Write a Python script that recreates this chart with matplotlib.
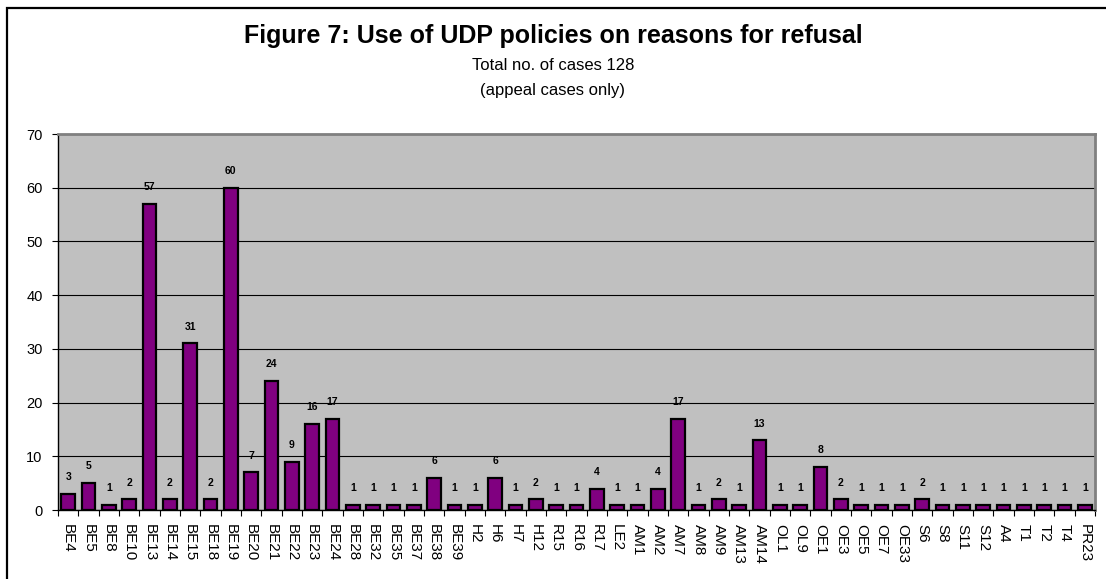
import matplotlib
matplotlib.use("Agg")
import matplotlib.pyplot as plt
import matplotlib.patches as mpatches
import numpy as np

plt.rcParams['font.family'] = ['Liberation Sans', 'DejaVu Sans']

# policy codes and number of appeal cases
policies = ["BE4", "BE5", "BE8", "BE10", "BE13", "BE14", "BE15", "BE18", "BE19", "BE20",
            "BE21", "BE22", "BE23", "BE24", "BE28", "BE32", "BE35", "BE37", "BE38", "BE39",
            "H2", "H6", "H7", "H12", "R15", "R16", "R17", "LE2", "AM1", "AM2",
            "AM7", "AM8", "AM9", "AM13", "AM14", "OL1", "OL9", "OE1", "OE3", "OE5",
            "OE7", "OE33", "S6", "S8", "S11", "S12", "A4", "T1", "T2", "T4", "PR23"]
cases = [3, 5, 1, 2, 57, 2, 31, 2, 60, 7,
         24, 9, 16, 17, 1, 1, 1, 1, 6, 1,
         1, 6, 1, 2, 1, 1, 4, 1, 1, 4,
         17, 1, 2, 1, 13, 1, 1, 8, 2, 1,
         1, 1, 2, 1, 1, 1, 1, 1, 1, 1, 1]
y_ticks = [0, 10, 20, 30, 40, 50, 60, 70]

W, H = 1106, 579
fig = plt.figure(figsize=(W / 100, H / 100), dpi=100)

# outer chart border (right and bottom run off the picture)
fig.patches.append(mpatches.Rectangle((7 / W, -0.05), 1.05, 1 - 8 / H + 0.05,
                                      transform=fig.transFigure, fill=False,
                                      edgecolor='black', linewidth=1.6))

ax = fig.add_axes([58 / W, 1 - 510 / H, (1095 - 58) / W, (510 - 134) / H])
ax.set_facecolor('#C0C0C0')

x = np.arange(len(policies))
ax.bar(x, cases, width=0.66, color='#800080', edgecolor='black', linewidth=1.6, zorder=3)

for xi, v in zip(x, cases):
    ax.annotate(str(v), (xi, v), xytext=(0, 12), textcoords='offset points',
                ha='center', va='center', fontsize=7.5, fontweight='bold')

ax.set_xlim(-0.5, len(policies) - 0.5)
ax.set_ylim(0, 70)
ax.set_yticks(y_ticks)
ax.yaxis.grid(True, color='black', linewidth=0.8, zorder=1)
ax.set_axisbelow(True)

ax.set_xticks(x)
ax.set_xticklabels(policies, rotation=-90, fontsize=11)
ax.set_xticks(np.arange(len(policies) + 1) - 0.5, minor=True)
ax.tick_params(axis='x', which='major', length=0, pad=10)
ax.tick_params(axis='x', which='minor', length=4, width=0.8, direction='out')
ax.tick_params(axis='y', length=4, width=0.8, direction='out', labelsize=10.5, pad=7)

for side in ['left', 'bottom']:
    ax.spines[side].set_color('black')
    ax.spines[side].set_linewidth(1.0)
for side in ['top', 'right']:
    ax.spines[side].set_color('#808080')
    ax.spines[side].set_linewidth(2.0)

fig.text(0.5, 1 - 36 / H, "Figure 7: Use of UDP policies on reasons for refusal",
         ha='center', va='center', fontsize=18, fontweight='bold')
fig.text(0.5, 1 - 66 / H, "Total no. of cases 128", ha='center', va='center', fontsize=12)
fig.text(0.5, 1 - 90 / H, "(appeal cases only)", ha='center', va='center', fontsize=12)

plt.savefig('out.png', dpi=100)
